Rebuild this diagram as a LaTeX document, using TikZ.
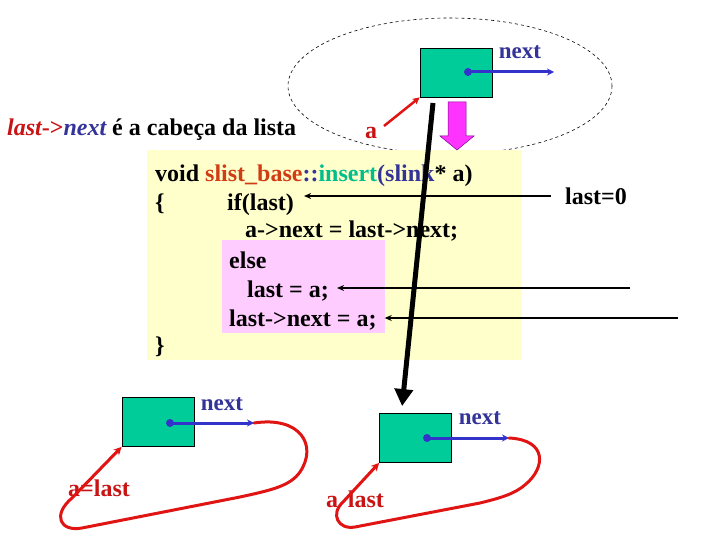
\documentclass[tikz,border=0pt]{standalone}
\usepackage{fontspec}
\setmainfont{Liberation Serif}
\usetikzlibrary{arrows.meta}
\definecolor{boxgreen}{RGB}{0,204,153}
\definecolor{codeyellow}{RGB}{255,255,204}
\definecolor{codepink}{RGB}{255,204,255}
\definecolor{ptrblue}{RGB}{51,51,204}
\definecolor{lblblue}{RGB}{51,51,153}
\definecolor{curvered}{RGB}{225,20,20}
\definecolor{lblred}{RGB}{200,20,20}
\definecolor{orred}{RGB}{210,60,20}
\definecolor{teal}{RGB}{0,190,140}
\definecolor{magfill}{RGB}{255,51,255}
\definecolor{magline}{RGB}{120,0,140}
\tikzset{
  txt/.style={font=\fontsize{24}{29}\selectfont\bfseries, inner sep=0pt, anchor=base west},
  lbl/.style={font=\fontsize{24}{28}\selectfont\bfseries, inner sep=0pt},
  cell/.style={draw=black, line width=0.8pt, fill=boxgreen, minimum width=72pt, minimum height=49pt, inner sep=0pt},
  ptr/.style={draw=ptrblue, line width=3pt, -{Stealth[length=7pt,width=7pt]}},
  dot/.style={fill=ptrblue, circle, inner sep=0pt, minimum size=8pt},
  loop/.style={draw=curvered, line width=3pt, line cap=round, -{Stealth[length=8pt,width=8pt]}},
  codearrow/.style={draw=black, line width=1.8pt, -{Stealth[length=7pt,width=6pt]}}
}
\begin{document}
\begin{tikzpicture}[x=1pt,y=-1pt]
\useasboundingbox (0,0) rectangle (720,540);
% ellipse
\draw[dashed, line width=0.6pt] (450,86) ellipse [x radius=162pt, y radius=68pt];
% code background
\fill[codeyellow] (147,150) rectangle (522,360);
\fill[codepink] (222,240) rectangle (385,333);
% top cell
\node[cell] (c1) at (456,72.5) {};
\node[dot] (d1) at (468,72) {};
\coordinate (e1) at (554,72);
\draw[ptr] (d1.center) -- (e1);
\node[lbl, font=\fontsize{23}{27}\selectfont\bfseries, text=lblblue] (n1) at (520,52) {next};
% red a arrow
\node[lbl, text=lblred] (la) at (371,133) {a};
\coordinate (as) at (384,126);
\draw[draw=curvered, line width=2.5pt, -{Stealth[length=7pt,width=7pt]}] (as) -- (c1.south west);
% magenta arrow
\draw[fill=magfill, draw=magline, line width=0.5pt] (448,102) -- (466,102) -- (466,136) -- (474,136) -- (457,150) -- (440,136) -- (448,136) -- cycle;
% header
\node[txt] (hdr) at (7,136) {\textcolor{lblred}{\itshape last}\textcolor{lblred}{->}\textcolor{lblblue}{\itshape next} é a cabeça da lista};
% code
\node[txt] (l1) at (155,182) {void \textcolor{orred}{slist\_base}\textcolor{lblblue}{::}\textcolor{teal}{insert}\textcolor{lblblue}{(slink}* a)};
\node[txt] (br1) at (155,211) {\{};
\node[txt] (l2) at (227,211) {if(last)};
\node[txt] (l3) at (245,237) {a->next = last->next;};
\node[txt] (l4) at (229,268) {else};
\node[txt] (l5) at (247,297) {last = a;};
\node[txt] (l6) at (229,326) {last->next = a;};
\node[txt] (br2) at (155,353) {\}};
% right side
\node[lbl] (l0) at (596,196) {last=0};
\coordinate (r5) at (630,288);
\coordinate (r6) at (678,318);
\draw[codearrow] (l0.west) ++(-14,0) -- ([xshift=10pt]l2.east |- l0.west);
\draw[codearrow] (r5) -- ([xshift=8pt]l5.east |- r5);
\draw[codearrow] (r6) -- ([xshift=8pt]l6.east |- r6);
% bottom-left cell
\node[cell] (c2) at (158,422) {};
\node[dot] (d2) at (170,423) {};
\coordinate (e2) at (254,423);
\draw[ptr] (d2.center) -- (e2);
\node[lbl, font=\fontsize{23}{27}\selectfont\bfseries, text=lblblue] (n2) at (222,404) {next};
\node[lbl, text=lblred] (al1) at (99,488) {a=last};
\draw[loop] (e2) .. controls (300,416) and (318,445) .. (300,472) .. controls (290,486) and (272,490) .. (240,497) -- (82,528) .. controls (60,532) and (52,515) .. (72,498) -- (c2.south west);
% bottom-right cell
\node[cell] (c3) at (415.5,438) {};
\node[dot] (d3) at (427,438) {};
\coordinate (e3) at (509,438);
\draw[ptr] (d3.center) -- (e3);
\node[lbl, font=\fontsize{23}{27}\selectfont\bfseries, text=lblblue] (n3) at (480,418) {next};
\node[lbl, text=lblred] (al2) at (355,499) {a\hspace{10pt}last};
\draw[loop] (e3) .. controls (548,440) and (545,468) .. (526,484) .. controls (515,494) and (500,498) .. (480,503) -- (355,527) .. controls (338,530) and (330,514) .. (343,502) -- (c3.south west);
% black thick arrow
\coordinate (bt) at (433,103);
\draw[line width=5pt, -{Triangle[length=17pt,width=18pt]}] (bt) -- ([xshift=23pt,yshift=7pt]c3.north west);
\end{tikzpicture}
\end{document}
